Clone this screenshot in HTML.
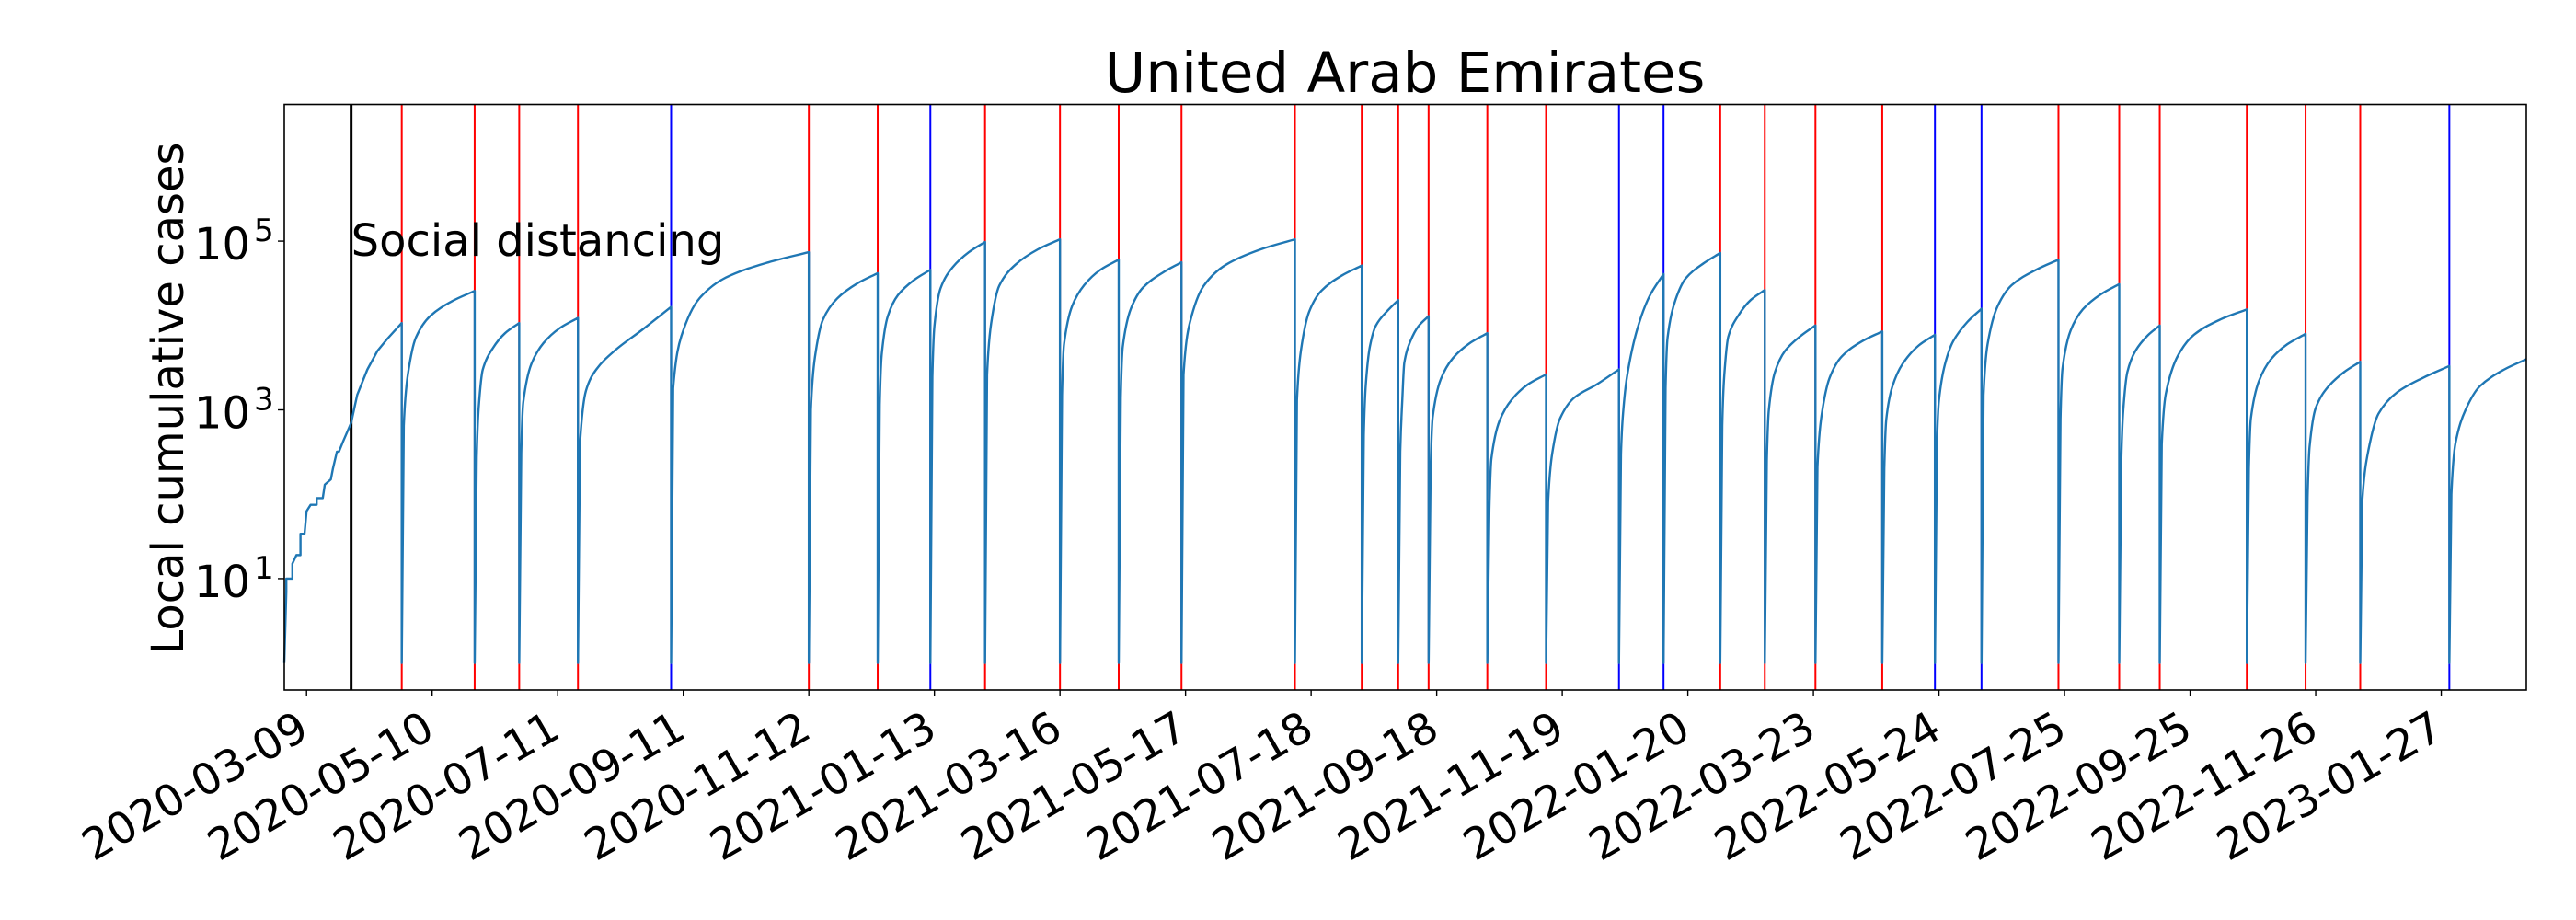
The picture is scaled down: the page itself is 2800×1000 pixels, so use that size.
<!DOCTYPE html>
<html><head><meta charset="utf-8">
<style>
html,body{margin:0;padding:0;background:#fff;}
svg{display:block;font-family:"DejaVu Sans","Liberation Sans",sans-serif;}
</style></head>
<body>
<svg id="chart" width="2800" height="1000" viewBox="0 0 2800 1000" xmlns="http://www.w3.org/2000/svg">
<rect x="0" y="0" width="2800" height="1000" fill="#fff"/>
<text x="1527" y="100" font-size="61" text-anchor="middle">United Arab Emirates</text>
<text transform="translate(199,433) rotate(-90)" font-size="48" text-anchor="middle">Local cumulative cases</text>
<g id="events"></g>
<g id="series"></g>
<g id="axes"></g>
</svg>
<script>
// ---- data ----
const xDomain = ["2020-02-27", "2023-03-10"];
const yDomainLog = [-0.32, 6.62];
const xTickLabels = ["2020-03-09","2020-05-10","2020-07-11","2020-09-11","2020-11-12","2021-01-13","2021-03-16","2021-05-17","2021-07-18","2021-09-18","2021-11-19","2022-01-20","2022-03-23","2022-05-24","2022-07-25","2022-09-25","2022-11-26","2023-01-27"];
const yTickExps = [1, 3, 5];
const eventDates = ["2020-03-31","2020-04-25","2020-05-31","2020-06-22","2020-07-21","2020-09-05","2020-11-12","2020-12-16","2021-01-11","2021-02-07","2021-03-16","2021-04-14","2021-05-15","2021-07-10","2021-08-12","2021-08-30","2021-09-14","2021-10-13","2021-11-11","2021-12-17","2022-01-08","2022-02-05","2022-02-27","2022-03-24","2022-04-26","2022-05-22","2022-06-14","2022-07-22","2022-08-21","2022-09-10","2022-10-23","2022-11-21","2022-12-18","2023-01-31"];
const eventTypes = ["social","red","red","red","red","blue","red","red","blue","red","red","red","red","red","red","red","red","red","red","blue","blue","red","red","red","red","blue","blue","red","red","red","red","red","red","blue"];
const segmentStarts = ["2020-02-27","2020-04-25","2020-05-31","2020-06-22","2020-07-21","2020-09-05","2020-11-12","2020-12-16","2021-01-11","2021-02-07","2021-03-16","2021-04-14","2021-05-15","2021-07-10","2021-08-12","2021-08-30","2021-09-14","2021-10-13","2021-11-11","2021-12-17","2022-01-08","2022-02-05","2022-02-27","2022-03-24","2022-04-26","2022-05-22","2022-06-14","2022-07-22","2022-08-21","2022-09-10","2022-10-23","2022-11-21","2022-12-18","2023-01-31"];
const segmentDays = [
 [0,1,1,4,4,6,8,8,10,11,13,16,16,19,20,23,24,26,27,29,33,36,41,46,51,58],
 [0,1,3,7,14,25,36],[0,1,2,4,9,15,22],[0,1,2,6,12,20,29],[0,1,4,9,18,32,46],
 [0,1,5,14,27,48,68],[0,1,3,7,14,24,34],[0,1,2,5,10,18,26],[0,1,2,5,11,19,27],
 [0,1,3,7,15,26,37],[0,1,2,6,12,20,29],[0,1,2,6,12,22,31],[0,1,4,11,22,39,56],
 [0,1,3,7,13,23,33],[0,1,2,4,7,13,18],[0,1,2,3,6,10,15],[0,1,2,6,12,20,29],
 [0,1,2,6,12,20,29],[0,1,3,7,14,25,36],[0,1,2,4,9,15,22],[0,1,2,6,11,20,28],
 [0,1,2,4,9,15,22],[0,1,2,5,10,18,25],[0,1,3,7,13,23,33],[0,1,2,5,10,18,26],
 [0,1,2,5,9,16,23],[0,1,3,8,15,27,38],[0,1,2,6,12,21,30],[0,1,2,4,8,14,20],
 [0,1,3,9,17,30,43],[0,1,2,6,12,20,29],[0,1,2,5,11,19,27],[0,1,4,9,18,31,44],
 [0,1,3,8,15,27,38]
];
const segmentCases = [
 [1,7,10,10,15,19,19,34,34,63,75,75,90,90,130,150,200,320,320,420,700,1500,3000,5000,7000,10700],
 [1,650,2600,7200,12900,19500,25700],[1,270,1070,3000,5400,8100,10700],[1,310,1230,3500,6200,9300,12300],[1,400,1700,3000,5000,9000,16600],
 [1,1800,7400,21000,37000,56000,74000],[1,1000,4200,11800,20900,31600,41700],[1,1150,4570,12900,22900,34700,45700],[1,2450,9800,27500,49000,74000,97700],
 [1,2600,10500,29600,52600,79700,105000],[1,1500,6000,17000,30200,45800,60300],[1,1400,5600,15800,28200,42700,56200],[1,2600,10500,29600,52600,79700,105000],
 [1,1290,5100,14500,25700,38900,51300],[1,500,2000,5600,10000,15200,20000],[1,320,1290,3600,6500,9800,12900],[1,200,810,2300,4100,6100,8100],
 [1,66,263,740,1320,2000,2630],[1,80,300,800,1400,2000,3020],[1,300,900,2500,9000,22000,40700],[1,1800,7200,20400,36300,55000,72400],
 [1,660,2600,7400,13200,20000,26300],[1,250,1000,2800,5000,7600,10000],[1,210,850,2400,4300,6500,8500],[1,200,780,1900,3500,5800,7760],
 [1,400,1300,3500,6500,11000,15800],[1,1500,6000,17000,30200,45800,60300],[1,780,3100,8700,15500,23500,30900],[1,250,1000,2800,5000,7600,10000],
 [1,390,1550,4400,7800,11800,15500],[1,200,790,2200,4000,6000,7940],[1,93,370,1050,1860,2800,3720],[1,83,330,900,1600,2400,3310],
 [1,100,400,1000,1900,3000,3980]
];
const annotationText = "Social distancing";

// ---- layout ----
const NS = "http://www.w3.org/2000/svg";
const plot = {left: 309, right: 2746, top: 113.5, bottom: 750};
const DAY = 86400000;
function parseDate(s){ const p = s.split("-").map(Number); return Date.UTC(p[0], p[1]-1, p[2]); }
const x0 = parseDate(xDomain[0]), x1 = parseDate(xDomain[1]);
function xScale(t){ return plot.left + (t - x0) / (x1 - x0) * (plot.right - plot.left); }
function yScale(v){ const l = Math.log10(v); return plot.bottom - (l - yDomainLog[0]) / (yDomainLog[1] - yDomainLog[0]) * (plot.bottom - plot.top); }
function mk(tag, attrs, parent){ const e = document.createElementNS(NS, tag); for (const k in attrs) e.setAttribute(k, attrs[k]); parent.appendChild(e); return e; }

// monotone cubic path through pixel points (rendering only)
function monoPath(P, first){
  const n = P.length;
  let d = (first ? "M" : "L") + P[0][0].toFixed(2) + "," + P[0][1].toFixed(2);
  if (n < 3) { for (let i = 1; i < n; i++) d += "L" + P[i][0].toFixed(2) + "," + P[i][1].toFixed(2); return d; }
  const s = [], m = [];
  for (let i = 0; i < n - 1; i++) s.push((P[i+1][1] - P[i][1]) / (P[i+1][0] - P[i][0]));
  m[0] = s[0]; m[n-1] = s[n-2];
  for (let i = 1; i < n - 1; i++) m[i] = (s[i-1] * s[i] <= 0) ? 0 : 2 / (1 / s[i-1] + 1 / s[i]);
  // keep the reset drop vertical-ish: first segment straight line
  d += "L" + P[1][0].toFixed(2) + "," + P[1][1].toFixed(2);
  m[1] = Math.min(Math.abs(m[1]), Math.abs(s[1]) * 3) * Math.sign(s[1]);
  for (let i = 1; i < n - 1; i++) {
    const h = P[i+1][0] - P[i][0];
    const c1x = P[i][0] + h / 3, c1y = P[i][1] + m[i] * h / 3;
    const c2x = P[i+1][0] - h / 3, c2y = P[i+1][1] - m[i+1] * h / 3;
    d += "C" + c1x.toFixed(2) + "," + c1y.toFixed(2) + " " + c2x.toFixed(2) + "," + c2y.toFixed(2) + " " + P[i+1][0].toFixed(2) + "," + P[i+1][1].toFixed(2);
  }
  return d;
}

const gEv = document.getElementById("events");
const gSe = document.getElementById("series");
const gAx = document.getElementById("axes");
const colors = {social: "#000000", red: "#ff0000", blue: "#0000ff"};

eventDates.forEach((d, i) => {
  const x = xScale(parseDate(d));
  const ln = mk("line", {x1: x, x2: x, y1: plot.top, y2: plot.bottom, stroke: colors[eventTypes[i]], "stroke-width": eventTypes[i] === "social" ? 3 : 2}, gEv);
  
  
});

let dStr = "";
segmentStarts.forEach((s, i) => {
  const t0 = parseDate(s);
  const P = segmentDays[i].map((d, j) => [xScale(t0 + d * DAY), yScale(segmentCases[i][j])]);
  if (i === 0) {
    P.forEach((p, j) => { dStr += (j === 0 ? "M" : "L") + p[0].toFixed(2) + "," + p[1].toFixed(2); });
  } else {
    dStr += monoPath(P, false);
  }
});
const path = mk("path", {d: dStr, fill: "none", stroke: "#1f77b4", "stroke-width": 2.4, "stroke-linejoin": "round"}, gSe);



// annotation
const ann = mk("text", {x: xScale(parseDate(eventDates[0])), y: 278, "font-size": 48}, gSe);
ann.textContent = annotationText;



// frame
const fr = mk("rect", {x: plot.left, y: plot.top, width: plot.right - plot.left, height: plot.bottom - plot.top, fill: "none", stroke: "#000", "stroke-width": 1.6}, gAx);



// x ticks
xTickLabels.forEach(lbl => {
  const x = xScale(parseDate(lbl));
  const tk = mk("line", {x1: x, x2: x, y1: plot.bottom, y2: plot.bottom + 7, stroke: "#000", "stroke-width": 1.4}, gAx);
  
  
  const tx = mk("text", {transform: "translate(" + (x + 5) + ",800) rotate(-30)", "font-size": 47, "text-anchor": "end"}, gAx);
  tx.textContent = lbl;
  
  
});

// y ticks
yTickExps.forEach(e => {
  const y = yScale(Math.pow(10, e));
  const tk = mk("line", {x1: plot.left - 7, x2: plot.left, y1: y, y2: y, stroke: "#000", "stroke-width": 1.4}, gAx);
  
  
  const tx = mk("text", {x: 272, y: y + 20, "font-size": 48, "text-anchor": "end"}, gAx);
  tx.textContent = "10";
  
  
  const sp = mk("text", {x: 276, y: y, "font-size": 34}, gAx);
  sp.textContent = String(e);
  
  
});
</script>
</body></html>
